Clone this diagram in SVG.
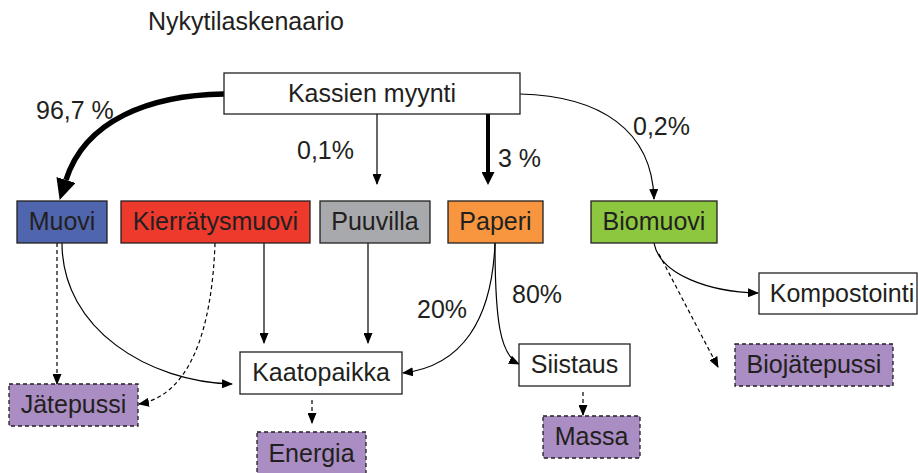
<svg xmlns="http://www.w3.org/2000/svg" width="918" height="473" viewBox="0 0 918 473">
<style>
text{font-family:"Liberation Sans",Arial,sans-serif;font-size:25px;fill:#231f20}
.n{text-anchor:middle}
.box{stroke:#231f20;stroke-width:1.3}
.dbox{stroke:#231f20;stroke-width:1.3;stroke-dasharray:4 3;fill:#a98dc3}
.c{fill:none;stroke:#000;stroke-width:1.2}
.d{fill:none;stroke:#000;stroke-width:1.2;stroke-dasharray:4 3}
</style>
<defs>
<marker id="a" markerUnits="userSpaceOnUse" markerWidth="11" markerHeight="9" refX="10" refY="4.5" orient="auto"><path d="M0,0 L11,4.5 L0,9 z" fill="#000"/></marker>
<marker id="big" markerUnits="userSpaceOnUse" markerWidth="21" markerHeight="20" refX="0" refY="10" orient="auto"><path d="M0,0 L21,10 L0,20 z" fill="#000"/></marker>
<marker id="mid" markerUnits="userSpaceOnUse" markerWidth="13" markerHeight="13" refX="0" refY="6.5" orient="auto"><path d="M0,0 L13,6.5 L0,13 z" fill="#000"/></marker>
</defs>
<text x="148" y="30">Nykytilaskenaario</text>
<g id="connectors">
<path d="M224,94 C150,95 85,120 66,180" fill="none" stroke="#000" stroke-width="5.5" marker-end="url(#big)"/>
<path d="M377,114 L377,184" class="c" marker-end="url(#a)"/>
<path d="M488,114 L488,172" fill="none" stroke="#000" stroke-width="4" marker-end="url(#mid)"/>
<path d="M520,94 C600,96 652,130 654,199" class="c" marker-end="url(#a)"/>
<path d="M57,243 L57,384" class="d" marker-end="url(#a)"/>
<path d="M62,243 C62,330 150,382 232,384" class="c" marker-end="url(#a)"/>
<path d="M215,243 C212,330 190,395 139,404" class="d" marker-end="url(#a)"/>
<path d="M264,243 L264,343" class="c" marker-end="url(#a)"/>
<path d="M368,243 L368,343" class="c" marker-end="url(#a)"/>
<path d="M495,243 C492,320 462,366 403,373" class="c" marker-end="url(#a)"/>
<path d="M495,243 C495,320 500,355 519,364" class="c" marker-end="url(#a)"/>
<path d="M312,400 L312,423" class="d" marker-end="url(#a)"/>
<path d="M583,392 L583,415" class="d" marker-end="url(#a)"/>
<path d="M654,243 C660,275 710,292 758,293" class="c" marker-end="url(#a)"/>
<path d="M659,254 L718,367" class="d" marker-end="url(#a)"/>
</g>
<g id="labels">
<text x="36" y="119">96,7 %</text>
<text x="297" y="159">0,1%</text>
<text x="498" y="167">3 %</text>
<text x="633" y="135">0,2%</text>
<text x="417" y="318">20%</text>
<text x="512" y="303">80%</text>
</g>
<g id="kassien"><rect class="box" x="224" y="73" width="296" height="41" fill="#fff"/><text class="n" x="372" y="102">Kassien myynti</text></g>
<g id="muovi"><rect class="box" x="17" y="201" width="90" height="42" fill="#4f66ae"/><text class="n" x="62" y="230">Muovi</text></g>
<g id="kierratysmuovi"><rect class="box" x="121" y="201" width="189" height="42" fill="#ee3a2d"/><text class="n" x="215.5" y="230">Kierrätysmuovi</text></g>
<g id="puuvilla"><rect class="box" x="320" y="201" width="110" height="42" fill="#a7a9ac"/><text class="n" x="375" y="230">Puuvilla</text></g>
<g id="paperi"><rect class="box" x="448" y="201" width="95" height="42" fill="#f7963f"/><text class="n" x="495.5" y="230">Paperi</text></g>
<g id="biomuovi"><rect class="box" x="591" y="201" width="126" height="42" fill="#8dc63f"/><text class="n" x="654" y="230">Biomuovi</text></g>
<g id="kompostointi"><rect class="box" x="759" y="273" width="158" height="41" fill="#fff"/><text class="n" x="842" y="302">Kompostointi</text></g>
<g id="kaatopaikka"><rect class="box" x="240" y="352" width="162" height="42" fill="#fff"/><text class="n" x="321" y="381">Kaatopaikka</text></g>
<g id="siistaus"><rect class="box" x="519" y="344" width="111" height="42" fill="#fff"/><text class="n" x="574.5" y="373">Siistaus</text></g>
<g id="jatepussi"><rect class="dbox" x="9" y="384" width="129" height="42"/><text class="n" x="73.5" y="413">Jätepussi</text></g>
<g id="energia"><rect class="dbox" x="257" y="432" width="109" height="44"/><text class="n" x="311.5" y="462">Energia</text></g>
<g id="massa"><rect class="dbox" x="543" y="416" width="97" height="42"/><text class="n" x="591.5" y="445">Massa</text></g>
<g id="biojatepussi"><rect class="dbox" x="735" y="344" width="158" height="42"/><text class="n" x="814" y="373">Biojätepussi</text></g>
</svg>
